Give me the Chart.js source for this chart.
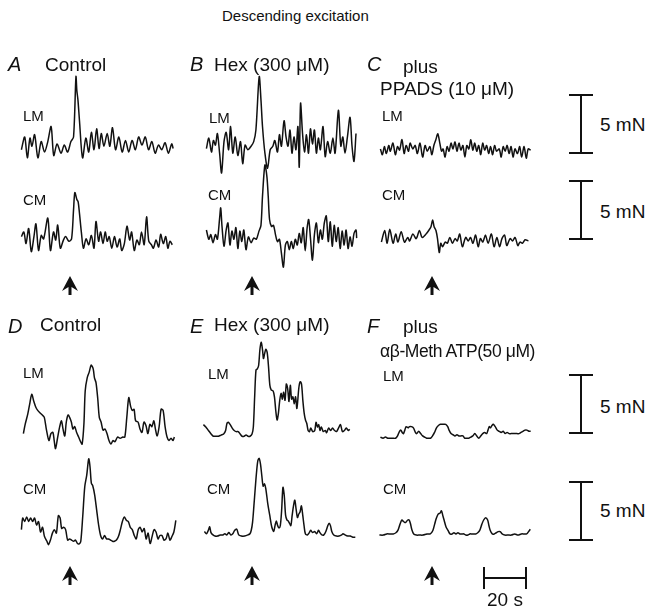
<!DOCTYPE html>
<html>
<head>
<meta charset="utf-8">
<script src="https://cdn.jsdelivr.net/npm/chart.js@4/dist/chart.umd.min.js"></script>
<style>
  body { margin: 0; background: #fff; }
  #fig { position: relative; width: 654px; height: 609px; overflow: hidden; font-family: "Liberation Sans", Arial, sans-serif; color: #111; }
  #fig canvas { position: absolute; }
  .t { position: absolute; white-space: nowrap; line-height: 1; }
  .head { font-size: 15px; }
  .big { font-size: 19px; }
  .drug2 { font-size: 17.5px; letter-spacing: -0.4px; }
  .lab { font-size: 15px; }
  .let { font-size: 20px; font-style: italic; }
  .vbar { position: absolute; width: 2px; background: #111; }
  .hbar { position: absolute; height: 2px; background: #111; }
</style>
</head>
<body>
<div id="fig"></div>
<script>
// force traces, [time (s), force (mN) relative to baseline]
const lmA = [[0,-0.4],[1.5,0.7],[2.7,-1.1],[3.9,0.6],[4.8,-0.1],[6,0.9],[7.5,-1.1],[9,0.3],[10.5,-0.6],[12,0.3],[13.5,1.6],[14.7,-0.9],[16.2,0.1],[18,-0.7],[19.5,0],[21,-0.6],[22.5,0.3],[23.7,0.7],[24.8,5.9],[25.2,4.7],[25.7,3.9],[26.4,2.1],[27.8,-1.1],[29.3,0.6],[30.6,-0.6],[31.8,1.1],[33,-0.4],[34.2,1.4],[35.3,-0.3],[36.3,1.0],[37.5,-0.1],[39,1.0],[40.2,-0.1],[41.4,1.5],[42.8,-0.4],[44.3,0.7],[45.8,-0.6],[47.3,0.4],[48.8,-0.6],[50.3,0.4],[51.8,-0.4],[53.3,0.7],[54.8,0],[56.3,0.7],[57.8,-0.4],[59.3,0.3],[60.8,-0.7],[62.3,0],[63.8,-0.4],[65.3,0.2],[66.8,-0.7],[68.3,0.1],[69,-0.3]];
const cmA = [[0,0.3],[1.1,0.7],[2.1,-0.3],[3.3,1.0],[4.5,-1.0],[5.7,0.3],[6.6,1.4],[7.8,-0.9],[9,0.4],[10.1,0.1],[12,1.9],[13.2,-0.9],[14.6,0.7],[15.6,0],[16.5,1.3],[17.7,-0.7],[19.1,0],[20.1,0.3],[21.6,-0.1],[22.8,0.1],[23.7,2.6],[24.3,4.1],[25.2,3.5],[25.8,3.3],[26.4,2.3],[27.3,0.6],[28.2,-0.7],[29.4,0.1],[30.6,-0.4],[31.8,0.4],[33,-0.7],[33.9,1.6],[35.1,-0.1],[36,0.7],[37.1,-0.3],[38.1,0.7],[39,-0.1],[39.9,0.3],[41.1,-0.7],[42.3,0.3],[43.5,-0.6],[44.7,0.1],[45.6,-0.9],[46.8,-0.3],[48,1.2],[49.2,0],[50.1,0.7],[51.3,-0.9],[52.5,0],[53.6,-0.4],[54.6,0.7],[55.8,-0.4],[56.9,2.0],[57.9,-0.1],[59.1,-0.4],[60,-0.7],[61.2,0],[62.4,-0.6],[63.3,0.5],[64.5,-0.3],[65.6,0.3],[66.6,-0.7],[67.5,-0.1],[68.6,-0.4]];
const lmB = [[0,-0.3],[1.1,0.6],[2.3,-0.6],[3.2,0.4],[4.1,0],[5,1.0],[6,-0.7],[6.9,-2.4],[8,0.3],[9,1.1],[10.1,-0.4],[11,1.6],[12,-0.7],[13.1,0.7],[14.3,-0.9],[15.5,0.3],[16.5,-1.6],[17.6,0],[18.8,-0.4],[20.3,-0.1],[21.5,0.3],[22.5,1.3],[24,5.9],[24.8,3.9],[25.5,1.6],[26.6,-0.7],[27.8,-2.0],[29,-0.4],[30.2,-0.1],[31.1,0.4],[32.3,-0.6],[33.2,0.9],[34.1,-0.1],[35.3,2.1],[36.2,0.7],[37.1,-0.1],[38,1.3],[38.9,-0.7],[39.8,0.7],[40.7,-0.4],[41.6,1.6],[42.2,-1.9],[42.8,3.6],[43.7,1.0],[44.6,-0.6],[45.5,0.9],[46.4,-0.7],[47.3,1.4],[48.2,0.1],[49.1,1.3],[50,-0.7],[50.9,0.6],[51.8,-0.4],[53,1.6],[54,-1.0],[55.1,0.3],[56.3,-0.7],[57.5,0.6],[58.5,-0.7],[60,3.0],[61.1,-0.1],[62,0.7],[63,-0.7],[64.1,0.7],[65.3,2.4],[66.2,-0.1],[67.1,-1.4],[68,1.0]];
const cmB = [[0,0.7],[1.1,-0.1],[2,0.3],[3,-0.4],[4.1,0.3],[5,-0.1],[6,1.7],[6.5,2.6],[7.1,1.0],[8,-0.7],[9,0.7],[9.8,1.3],[10.7,-0.6],[11.6,0.6],[12.5,-0.1],[13.4,0.9],[14.3,-0.9],[15.2,0.6],[16.1,-0.3],[17,0.7],[18,-1.0],[19.1,0.1],[20.3,-0.4],[21.5,0],[22.7,-0.1],[23.9,0.6],[24.8,1.1],[25.5,3.6],[26.6,6.3],[27.5,5.3],[28.1,3.6],[28.7,1.6],[29.6,1.0],[30.5,1.1],[31.4,0.3],[32.3,-0.3],[33.2,-0.1],[34.1,-1.3],[35,-2.5],[35.9,-0.6],[36.8,-0.3],[37.7,-1.0],[38.6,-0.3],[39.5,-0.9],[40.4,-0.1],[41.3,-0.6],[42.2,0.4],[43.1,-0.4],[44,0.9],[44.9,-1.1],[45.8,0.9],[46.5,1.6],[47.3,0],[48.2,-1.9],[49.1,0.3],[50,1.3],[50.9,-0.4],[51.8,0.7],[52.7,-0.1],[53.6,1.3],[54.5,1.9],[55.4,-0.3],[56.3,1.4],[57.2,-0.7],[58.1,1.1],[59,-0.3],[59.9,0.9],[60.8,-0.9],[61.7,0.6],[62.6,-0.6],[63.5,0.7],[64.4,-0.9],[65.3,0.1],[66.2,-0.7],[67.1,0.4],[68,0.7],[68.3,0]];
const lmC = [[0,0.1],[0.9,-0.4],[1.8,0.3],[2.7,-0.3],[3.8,0.4],[4.5,-0.1],[5.7,0.6],[6.8,-0.4],[7.8,0.3],[8.7,0],[9.8,0.9],[10.8,-0.3],[11.7,0.4],[12.8,-0.1],[13.5,0.6],[14.7,0.1],[15.8,0.4],[16.8,-0.3],[18,0.6],[19.2,-0.6],[20.3,0.4],[21.3,-0.1],[22.5,0.3],[23.4,-0.4],[24.3,0.4],[25.2,0.9],[26.1,1.4],[27,0.6],[27.8,-0.1],[28.5,0.1],[29.4,-0.6],[30.3,0.3],[31.2,-0.1],[32.1,0.6],[33,0.1],[33.9,0.7],[34.8,-0.1],[35.7,0.6],[36.6,0],[37.5,0.4],[38.4,-0.6],[39.3,0.4],[40.2,0.1],[41.1,0.9],[42,0],[42.9,0.6],[43.8,-0.1],[44.7,0.4],[45.6,-0.4],[46.5,0.6],[47.4,0],[48.3,0.4],[49.2,-0.3],[50.1,0.3],[51,-0.4],[51.9,0.4],[52.8,-0.1],[54,0.1],[54.9,-0.6],[55.8,0.3],[56.7,-0.1],[57.6,0.4],[58.5,-0.3],[59.4,0.3],[60.3,-0.6],[61.2,0.1],[62.3,-0.3],[63.3,0.3],[64.2,-0.6],[65.3,0.3],[66.3,-0.7],[67.2,0.1],[68.3,0]];
const cmC = [[0,0],[1.5,1.0],[2.6,-0.1],[3.8,1.1],[5.3,-0.1],[6.5,0.7],[7.5,0],[9,0.9],[10.5,0],[12,0.4],[12.8,0.1],[14.3,0.7],[15.8,0.3],[17.3,1.0],[18.5,0.4],[20.3,0.7],[21.5,1.0],[22.5,1.3],[23.3,1.9],[24,1.3],[24.8,1.0],[25.5,0.3],[26.3,-0.9],[27,-0.1],[27.8,-0.4],[29,0],[30,-0.1],[31.1,0.4],[32.3,-0.1],[33.5,0.3],[34.5,0.1],[35.6,0.7],[36.8,-0.4],[38.3,0.4],[39.5,0.1],[40.5,0.4],[41.6,-0.1],[42.8,0.6],[44,-0.4],[45,0.3],[46.1,0],[47.3,0.6],[48.5,-0.1],[50,0.7],[51.2,-0.4],[52.5,0.4],[53.7,-0.4],[54.8,0.3],[56,0.6],[57,-0.3],[58.5,0.3],[59.6,0.1],[60.8,0.4],[62,-0.3],[63,0],[64.1,-0.1],[65.3,0.2],[66.8,0.1]];
const lmD = [[0,0.3],[0.8,1.1],[2,2.0],[3,3.0],[3.8,3.7],[4.7,3.1],[5.6,2.6],[6.5,2.3],[7.5,2.1],[8.6,1.9],[9.5,1.7],[10.5,0.6],[11.6,-0.3],[12.5,0.3],[13.4,0.4],[14,-0.3],[14.6,-1.0],[15.5,-0.1],[16.5,0.9],[17.3,1.4],[18,0.7],[18.8,0.1],[19.5,1.3],[20.3,1.9],[21,1.7],[21.8,1.3],[22.5,0.7],[23.3,0.9],[24.2,0.4],[25.1,0],[26,-0.4],[26.7,-0.6],[27.5,1.1],[28.1,4.0],[29,5.1],[29.9,5.6],[30.8,6.2],[31.7,5.9],[32.3,5.1],[33,4.7],[33.8,3.3],[34.5,1.7],[35.3,1.3],[36.2,0.6],[37.1,0.7],[38,0.3],[38.9,-0.3],[39.8,-0.6],[40.7,-0.3],[41.6,-0.4],[42.8,0],[44,-0.1],[45.2,0],[46.1,0],[47,1.7],[47.9,3.4],[48.8,2.6],[49.5,2.3],[50.3,2.4],[51,1.4],[52.1,1.3],[53,0.7],[53.9,0.4],[54.8,1.3],[55.7,1.0],[56.6,0.3],[57.5,1.1],[58.4,0.9],[59.3,1.4],[60,0.7],[60.8,0.1],[61.7,0.9],[62.6,2.4],[63.5,2.3],[64.4,0.9],[65.3,0],[66.2,-0.3],[67.1,-0.1],[68,-0.3],[68.6,0]];
const cmD = [[0,0.9],[0.6,1.9],[1.5,1.6],[2.4,2.0],[3.3,1.6],[4.2,1.9],[5.1,1.6],[6,1.9],[6.9,1.3],[7.8,1.6],[8.7,0.7],[9.6,1.1],[10.5,0.3],[11.6,-0.1],[12.3,-0.4],[13.2,0],[14.1,0.6],[15,0.9],[15.9,0.6],[16.8,2.1],[17.6,1.9],[18.3,1.0],[19.2,1.1],[20.1,0.9],[21,0],[21.9,0.1],[22.8,0],[23.7,-0.1],[24.6,0],[25.5,-0.3],[26.4,-0.3],[27,-0.1],[27.9,2.1],[28.8,4.6],[29.7,5.6],[30.6,7.0],[31.2,6.3],[31.8,4.9],[32.4,4.7],[33.3,3.9],[34.2,2.6],[35.1,1.3],[36,0.4],[36.9,0.1],[37.8,0.4],[38.7,0.1],[39.6,0.1],[40.5,0],[41.4,-0.1],[42.3,-0.1],[43.2,0],[44.1,0.3],[45,0.9],[45.9,1.6],[46.8,2.0],[47.7,1.7],[48.6,1.6],[49.5,1.1],[50.4,0.9],[51.3,0.4],[52.2,0.1],[53.1,0.9],[54,1.1],[54.9,0.7],[55.8,1.0],[56.7,0.1],[57.6,0.6],[58.5,-0.3],[59.4,0.3],[60.3,0.9],[61.2,0.7],[62.1,0.1],[63,0.4],[63.9,0.4],[64.8,0],[65.7,0.1],[66.6,0.6],[67.5,0],[68.4,0.3],[69.3,0.7],[70.2,1.7]];
const lmE = [[0,0.9],[1.1,0.7],[2.3,0.4],[3.5,0.1],[4.5,-0.1],[5.6,-0.1],[6.8,-0.1],[8,0],[9.2,0.1],[10.1,0.4],[10.7,1.0],[11.3,1.1],[12.2,0.9],[13.1,0.6],[14,0.4],[14.9,0.3],[15.8,0.3],[16.7,0.1],[17.6,-0.1],[18.5,-0.1],[19.4,0],[20.3,-0.1],[21.2,-0.1],[22.1,0.1],[22.7,0.7],[23.3,3.3],[23.9,5.6],[24.5,5.7],[25.1,6.0],[25.7,7.4],[26.3,8.0],[26.9,7.3],[27.3,6.6],[27.8,7.0],[28.4,7.4],[29,7.1],[29.6,5.9],[30.2,4.3],[30.8,3.9],[31.7,3.8],[32.3,3.3],[32.9,2.1],[33.5,1.3],[34.1,1.9],[34.7,3.0],[35.3,3.6],[35.9,3.1],[36.5,3.7],[37.1,3.0],[37.7,4.4],[38.3,4.0],[38.9,2.9],[39.5,4.3],[40.1,3.1],[40.7,3.3],[41.3,2.7],[41.9,3.3],[42.5,2.3],[43.4,4.1],[44,4.6],[44.6,4.4],[45.2,3.0],[45.8,1.9],[46.4,1.3],[47,1.0],[47.6,0.4],[48.2,0.3],[48.8,0.6],[49.7,0.3],[50.6,0.4],[51.2,1.1],[51.8,0.7],[52.4,0.9],[53,0.4],[53.6,0.7],[54.5,0.3],[55.4,0.4],[56,0.2],[56.9,0.6],[57.8,0.4],[58.7,0.6],[59.6,0.4],[60.5,0.3],[61.4,0.6],[62.3,0.9],[63.2,0.3],[64.1,0.4],[64.9,0.6],[65.9,0.4],[66.5,0.5]];
const cmE = [[0,0.4],[0.9,0.2],[1.8,0.5],[2.4,0.8],[3,0.3],[3.9,0.1],[4.8,0],[6,0],[7.2,0.1],[8.4,0.1],[9.3,0.2],[10.2,0.1],[11.1,0.3],[12,0.1],[12.9,0.2],[13.8,0.5],[14.7,0.6],[15.6,0.1],[16.8,0],[18.3,0],[19.8,0.1],[20.7,0.2],[21.3,0.5],[21.9,1.2],[22.5,2.6],[23.1,4.1],[23.7,5.5],[24.3,6.5],[24.9,6.7],[25.5,6.2],[26.1,5.2],[26.7,4.3],[27.3,4.5],[27.9,4.1],[28.8,2.8],[29.7,1.8],[30.6,0.8],[31.5,0.4],[32.1,0.9],[32.7,1.3],[33.3,0.9],[33.9,0.7],[34.5,0.9],[35.1,2.2],[35.7,4.2],[36.3,3.5],[36.9,1.8],[37.5,1.4],[38.1,1.3],[38.7,1.1],[39.3,0.9],[39.9,1.8],[40.5,2.6],[41.1,3.1],[41.7,2.3],[42.3,1.6],[42.9,1.9],[43.5,2.1],[44.1,2.6],[44.7,1.8],[45.3,0.9],[45.9,0.2],[46.8,0.1],[47.7,0.3],[48.3,0.5],[49.2,0.3],[50.1,0.4],[51,0.2],[51.9,0.5],[52.5,0.3],[53.4,0.1],[54.3,0.1],[55.2,0.4],[56.1,0.9],[56.7,1.1],[57.3,0.9],[57.9,0.4],[58.8,0.1],[60,0],[61.2,0],[62.4,0.1],[63,0.2],[63.9,0.1],[65.1,0],[66.3,0],[67.5,-0.1],[68.6,-0.1]];
const lmF = [[0,0],[1.2,-0.1],[2.3,0],[3.3,-0.1],[4.5,-0.1],[5.7,-0.1],[6.9,-0.1],[7.8,0.1],[8.7,0.5],[9.3,0.6],[9.9,0.4],[10.5,0.3],[11.1,0.6],[11.7,0.9],[12.6,0.8],[13.2,0.9],[14.1,0.9],[15,0.8],[15.9,0.4],[16.5,0.3],[17.4,0.5],[18.3,0.3],[19.2,0.1],[20.1,0],[21,-0.1],[21.9,-0.1],[22.8,-0.1],[23.7,0.1],[24.6,0.4],[25.5,0.8],[26.4,1.0],[27.3,1.1],[28.5,1.1],[29.7,1.1],[30.6,0.9],[31.2,0.6],[32.1,0.3],[33,0.2],[33.9,0.1],[34.8,0.2],[35.7,0.1],[36.6,0.1],[37.5,0.1],[38.4,-0.1],[39.3,-0.1],[40.2,-0.1],[41.1,0],[42,0.1],[42.9,0.3],[43.8,0.1],[44.7,-0.1],[45.6,0.1],[46.5,0.3],[47.4,0.4],[48.3,0.3],[48.9,0.6],[49.5,0.9],[50.1,0.8],[50.7,1.0],[51.3,1.1],[52.2,0.9],[53.1,0.6],[54,0.5],[54.9,0.4],[55.8,0.5],[56.7,0.3],[57.6,0.4],[58.5,0.3],[59.4,0.3],[60.3,0.3],[61.2,0.3],[62.1,0.3],[63,0.3],[63.9,0.4],[64.8,0.5],[65.7,0.6],[66.6,0.6],[67.5,0.5],[68.3,0.5]];
const cmF = [[0,0],[1.8,0],[3.3,0.1],[4.8,0.1],[6.3,0.1],[7.5,0.2],[8.4,0.4],[9.3,0.9],[10.2,1.3],[10.8,1.2],[11.4,1.1],[12,1.1],[12.9,1.3],[13.5,1.3],[14.1,1.0],[14.7,0.5],[15.6,0.1],[16.8,0],[18.3,0],[19.8,0],[21.6,0.1],[23.1,0.1],[24.3,0.4],[25.2,1.0],[25.8,1.4],[26.7,1.8],[27.6,1.9],[28.2,2.1],[28.8,1.7],[29.4,1.3],[30.3,0.7],[31.2,0.4],[32.1,0.1],[33,0.1],[33.9,0.2],[34.8,0.1],[35.7,0.2],[36.6,0.1],[37.5,0.1],[38.4,0.1],[39.3,0],[40.2,0],[41.1,0.1],[42,0.1],[42.9,0.1],[43.8,0.1],[44.7,0.2],[45.6,0.4],[46.5,0.9],[47.4,1.3],[48.3,1.5],[49.2,1.3],[49.8,0.8],[50.4,0.4],[51.3,0.1],[52.2,0.1],[53.1,0.2],[54,0.3],[54.9,0.3],[55.8,0.1],[57,0],[58.5,0],[60,0],[61.5,0.1],[63,0],[64.5,0.1],[65.7,0.1],[66.9,0.1],[67.8,0.3],[68.6,0.5]];

const panelLetters = ["A", "B", "C", "D", "E", "F"];
const panelTitles = ["Control", "Hex (300 \u03bcM)", "plus", "Control", "Hex (300 \u03bcM)", "plus"];
const drugLabels = ["PPADS (10 \u03bcM)", "\u03b1\u03b2-Meth ATP(50 \u03bcM)"];
const scaleForce = 5;   // mN
const scaleTime = 20;   // s

// drawing scale
const PX_S = 2.2;     // px per second
const PX_MN = 11.6;   // px per mN

const fig = document.getElementById("fig");

function text(str, x, y, cls) {
  const d = document.createElement("div");
  d.className = "t " + cls;
  d.style.left = x + "px";
  d.style.top = y + "px";
  d.textContent = str;
  fig.appendChild(d);
  return d;
}

// one small chart per trace; x0 = trace start, y0 = baseline
function trace(pts, x0, y0) {
  const W = 166, H = 140, tMin = -2, fMax = 8.8;
  const c = document.createElement("canvas");
  c.width = W; c.height = H;
  c.style.left = (x0 + tMin * PX_S) + "px";
  c.style.top = (y0 - fMax * PX_MN) + "px";
  fig.appendChild(c);
  new Chart(c.getContext("2d"), {
    type: "line",
    data: {
      datasets: [{
        data: pts.map(p => ({ x: p[0], y: p[1] })),
        borderColor: "#111",
        borderWidth: 1.5,
        pointRadius: 0,
        tension: 0.3,
        fill: false
      }]
    },
    options: {
      responsive: false,
      animation: false,
      events: [],
      layout: { padding: 0 },
      plugins: { legend: { display: false }, tooltip: { enabled: false } },
      scales: {
        x: { type: "linear", display: false, min: tMin, max: tMin + W / PX_S },
        y: { display: false, max: fMax, min: fMax - H / PX_MN }
      }
    }
  });
}

trace(lmA, 21.7, 145);
trace(cmA, 21, 240);
trace(lmB, 206.7, 145);
trace(cmB, 206.7, 238.3);
trace(lmC, 380, 150);
trace(cmC, 381.7, 241.7);
trace(lmD, 23.3, 436.7);
trace(cmD, 21, 540);
trace(lmE, 203.3, 435);
trace(cmE, 204.3, 535.7);
trace(lmF, 380, 436.7);
trace(cmF, 379.3, 535);

// texts
text("Descending excitation", 222, 8, "head");
const colX = [8, 190, 367];
const titleX = [[45, 214, 403], [40, 214, 403]];
[[54, 55], [316, 315]].forEach((row, r) => {
  for (let i = 0; i < 3; i++) {
    text(panelLetters[r * 3 + i], colX[i], row[0], "let");
    text(panelTitles[r * 3 + i], titleX[r][i], row[1] + (i === 2 ? 2 : 0), "big");
  }
});
text(drugLabels[0], 380, 79, "big");
text(drugLabels[1], 380, 343, "drug2");

[[23, 108, 23, 192], [209, 110, 208, 187], [382, 108, 382, 187],
 [23, 365, 23, 481], [208, 366, 207, 481], [383, 368, 383, 481]].forEach(p => {
  text("LM", p[0], p[1], "lab");
  text("CM", p[2], p[3], "lab");
});

// force scale bars
[[95, 115], [181, 202], [375, 397], [482, 501]].forEach(s => {
  const h = scaleForce * PX_MN;
  const v = document.createElement("div");
  v.className = "vbar";
  v.style.left = "580px"; v.style.top = s[0] + "px"; v.style.height = h + "px";
  fig.appendChild(v);
  [s[0] - 1, s[0] + h - 1].forEach(y => {
    const t = document.createElement("div");
    t.className = "hbar";
    t.style.left = "569px"; t.style.top = y + "px"; t.style.width = "24px";
    fig.appendChild(t);
  });
  text(scaleForce + " mN", 600, s[1], "big");
});

// time scale bar
{
  const w = scaleTime * PX_S;
  const h = document.createElement("div");
  h.className = "hbar";
  h.style.left = "483px"; h.style.top = "577px"; h.style.width = w + "px";
  fig.appendChild(h);
  [483, 483 + w - 2].forEach(x => {
    const v = document.createElement("div");
    v.className = "vbar";
    v.style.left = x + "px"; v.style.top = "567px"; v.style.height = "22px";
    fig.appendChild(v);
  });
  text(scaleTime + " s", 487, 590, "big");
}

// stimulus arrows
const svgNS = "http://www.w3.org/2000/svg";
[[70, 276], [252, 276], [432, 276], [70, 566], [252, 566], [432, 566]].forEach(a => {
  const s = document.createElementNS(svgNS, "svg");
  s.setAttribute("width", 18); s.setAttribute("height", 20);
  s.style.position = "absolute";
  s.style.left = (a[0] - 9) + "px"; s.style.top = a[1] + "px";
  const p = document.createElementNS(svgNS, "path");
  p.setAttribute("d", "M9 0 L17 15 L10.5 11 L10.5 19 L7.5 19 L7.5 11 L1 15 Z");
  p.setAttribute("fill", "#111");
  s.appendChild(p);
  fig.appendChild(s);
});
</script>
</body>
</html>
